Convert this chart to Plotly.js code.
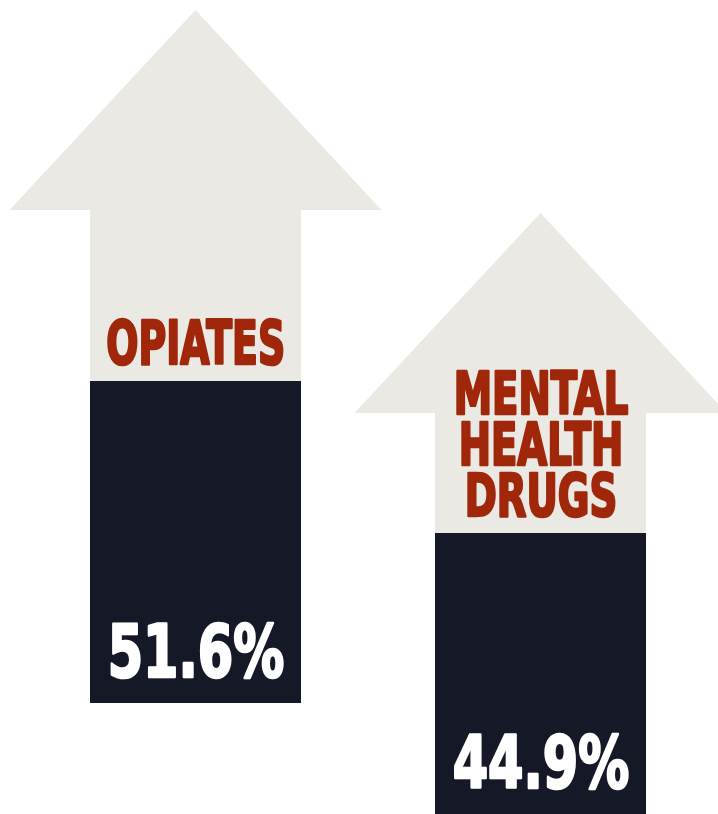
<!DOCTYPE html>
<html>
<head>
<meta charset="utf-8">
<script src="https://cdn.plot.ly/plotly-3.0.1.min.js"></script>
<style>html,body{margin:0;padding:0;background:#fff;}#chart{width:718px;height:814px;}</style>
</head>
<body>
<div id="chart"></div>
<script>
// ---- data ----
var categories = ["OPIATES", "MENTAL<br>HEALTH<br>DRUGS"];
var values = [51.6, 44.9];
var valueLabels = ["51.6%", "44.9%"];

// ---- layout constants (pixels) ----
var W = 718, H = 814;
var PPU = 6.25;                 // pixels per percentage point
var centersPx = [195.5, 540.5]; // bar centres
var barW = 211;
var basePx = [703, 814];        // bar bottoms
var shaftTopPx = [210, 413];    // where arrow heads start
var headH = 200, headHalf = 186;

var SPACING = 345; // px per category step
var xr = [-centersPx[0] / SPACING, (W - centersPx[0]) / SPACING];
var yr = [0, H / PPU];
var bases = basePx.map(function (p) { return (H - p) / PPU; });

var ARROW = "#EAE9E4", DARK = "#151826", RED = "#A0270A", WHITE = "#FFFFFF";
var FONT = "'DejaVu Sans Condensed', 'DejaVu Sans', sans-serif";
var LABEL_SIZES = [61, 58], LABEL_SCALE = [0.69, 0.74], LINE_PITCH = 0.88;
var PCT_SIZE = 73, PCT_SCALE = 0.775;

function px2x(p) { return p / W; }
function px2y(p) { return (H - p) / H; }

var shapes = centersPx.map(function (cx, i) {
  var l = cx - barW / 2, r = cx + barW / 2, b = basePx[i], t = shaftTopPx[i];
  var pts = [[l, b], [l, t], [cx - headHalf, t], [cx, t - headH], [cx + headHalf, t], [r, t], [r, b]];
  var d = pts.map(function (p, k) { return (k ? "L" : "M") + px2x(p[0]).toFixed(5) + "," + px2y(p[1]).toFixed(5); }).join(" ") + " Z";
  return { type: "path", xref: "paper", yref: "paper", path: d, fillcolor: ARROW, line: { width: 0 }, layer: "below" };
});

var xIdx = categories.map(function (c, i) { return i; });

var trace = {
  type: "bar",
  x: xIdx,
  y: values,
  base: bases,
  width: barW / SPACING,
  marker: { color: DARK, line: { width: 0 } },
  hoverinfo: "skip"
};

var annotations = [], post = [];
categories.forEach(function (c, i) {
  var top = bases[i] + values[i];
  annotations.push({
    x: i, y: top, xref: "x", yref: "y",
    text: c, showarrow: false,
    xanchor: "center", yanchor: "bottom",
    yshift: 1,
    font: { family: FONT, size: LABEL_SIZES[i], color: RED, weight: 700 }
  });
  post.push({ scale: LABEL_SCALE[i], pitch: LINE_PITCH, size: LABEL_SIZES[i], color: RED, sw: 2.6 });
  annotations.push({
    x: i, y: bases[i], xref: "x", yref: "y",
    text: valueLabels[i], showarrow: false,
    xanchor: "center", yanchor: "bottom",
    yshift: 7,
    font: { family: FONT, size: PCT_SIZE, color: WHITE, weight: 700 }
  });
  post.push({ scale: PCT_SCALE, pitch: 1.3, size: PCT_SIZE, color: WHITE, sw: 2.6 });
});

var layout = {
  width: W, height: H,
  margin: { l: 0, r: 0, t: 0, b: 0, pad: 0 },
  paper_bgcolor: "#FFFFFF", plot_bgcolor: "rgba(0,0,0,0)",
  showlegend: false,
  bargap: 0,
  xaxis: { range: xr, visible: false, fixedrange: true, type: "linear" },
  yaxis: { range: yr, visible: false, fixedrange: true },
  shapes: shapes,
  annotations: annotations
};

var gd = document.getElementById("chart");
Plotly.newPlot(gd, [trace], layout, { staticPlot: true, displayModeBar: false }).then(function () {
  // condense and embolden the lettering, tighten the line spacing
  gd.querySelectorAll("g.annotation").forEach(function (g) {
    var idx = +g.getAttribute("data-index");
    var p = post[idx];
    if (!p) return;
    var t = g.querySelector("text.annotation-text");
    if (!t) return;
    var maxK = 0;
    t.querySelectorAll("tspan.line").forEach(function (ts) {
      var k = Math.round(parseFloat(ts.getAttribute("dy") || "0") / 1.3);
      if (k > maxK) maxK = k;
      ts.setAttribute("dy", (k * p.pitch) + "em");
    });
    var shift = maxK * (1.3 - p.pitch) * p.size;
    var bb = t.getBBox();
    var cx = bb.x + bb.width / 2;
    var prev = t.getAttribute("transform") || "";
    t.setAttribute("transform", prev + " translate(" + (cx * (1 - p.scale)) + "," + shift + ") scale(" + p.scale + ",1)");
    t.style.stroke = p.color;
    t.style.strokeWidth = p.sw + "px";
    t.style.strokeLinejoin = "round";
  });
});
</script>
</body>
</html>
